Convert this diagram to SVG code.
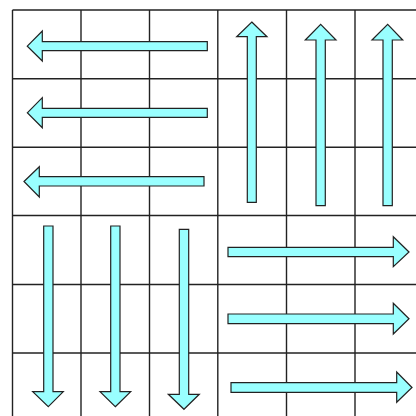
<svg xmlns="http://www.w3.org/2000/svg" width="416" height="416" viewBox="0 0 416 416">
<style>
.grid line{stroke:#222;stroke-width:1.4}
.arr{fill:#99FFFF;stroke:#222;stroke-width:1.2;stroke-linejoin:miter}
</style>
<rect width="416" height="416" fill="#fff"/>
<g class="grid">
<line x1="12.5" y1="10" x2="12.5" y2="416"/>
<line x1="81" y1="10" x2="81" y2="416"/>
<line x1="149.5" y1="10" x2="149.5" y2="416"/>
<line x1="217.8" y1="10" x2="217.8" y2="416"/>
<line x1="286.5" y1="10" x2="286.5" y2="416"/>
<line x1="355" y1="10" x2="355" y2="416"/>
<line x1="12.5" y1="10" x2="416" y2="10"/>
<line x1="12.5" y1="78.7" x2="416" y2="78.7"/>
<line x1="12.5" y1="147.3" x2="416" y2="147.3"/>
<line x1="12.5" y1="215.5" x2="416" y2="215.5"/>
<line x1="12.5" y1="284.5" x2="416" y2="284.5"/>
<line x1="12.5" y1="353" x2="416" y2="353"/>
</g>
<g id="arrows">
<g id="left1"><polygon class="arr" points="27.3,46.2 42.3,31 42.3,41.7 207.3,41.7 207.3,50.7 42.3,50.7 42.3,61"/></g>
<g id="left2"><polygon class="arr" points="27.3,112.8 42.3,97.7 42.3,108.3 207.3,108.3 207.3,117.3 42.3,117.3 42.3,127.7"/></g>
<g id="left3"><polygon class="arr" points="24,181.5 39.3,166.7 39.3,176.7 204,176.7 204,186 39.3,186 39.3,197"/></g>
<g id="up1"><polygon class="arr" points="251.8,22 267,36.7 256.3,36.7 256.3,202.3 247.3,202.3 247.3,36.7 236.7,36.7"/></g>
<g id="up2"><polygon class="arr" points="320.7,24.3 336,40 325.3,40 325.3,205.7 316,205.7 316,40 305.3,40"/></g>
<g id="up3"><polygon class="arr" points="387.7,24.3 402.7,40 392.3,40 392.3,205.7 383,205.7 383,40 372,40"/></g>
<g id="down1"><polygon class="arr" points="48.3,406.7 63.3,391.7 53,391.7 53,226 43.7,226 43.7,391.7 32.7,391.7"/></g>
<g id="down2"><polygon class="arr" points="115.3,406.7 130.7,391.7 120,391.7 120,226 110.7,226 110.7,391.7 100,391.7"/></g>
<g id="down3"><polygon class="arr" points="184,409.3 199.3,394.3 188.7,394.3 188.7,229.3 179.3,229.3 179.3,394.3 168.3,394.3"/></g>
<g id="right1"><polygon class="arr" points="409,252 393.3,236.7 393.3,247.3 228,247.3 228,256.7 393.3,256.7 393.3,266.7"/></g>
<g id="right2"><polygon class="arr" points="409,318.8 393.3,303.3 393.3,314 228,314 228,323.7 393.3,323.7 393.3,334"/></g>
<g id="right3"><polygon class="arr" points="412,387.5 396.7,372 396.7,382.7 231,382.7 231,392.3 396.7,392.3 396.7,402.3"/></g>
</g>
</svg>
